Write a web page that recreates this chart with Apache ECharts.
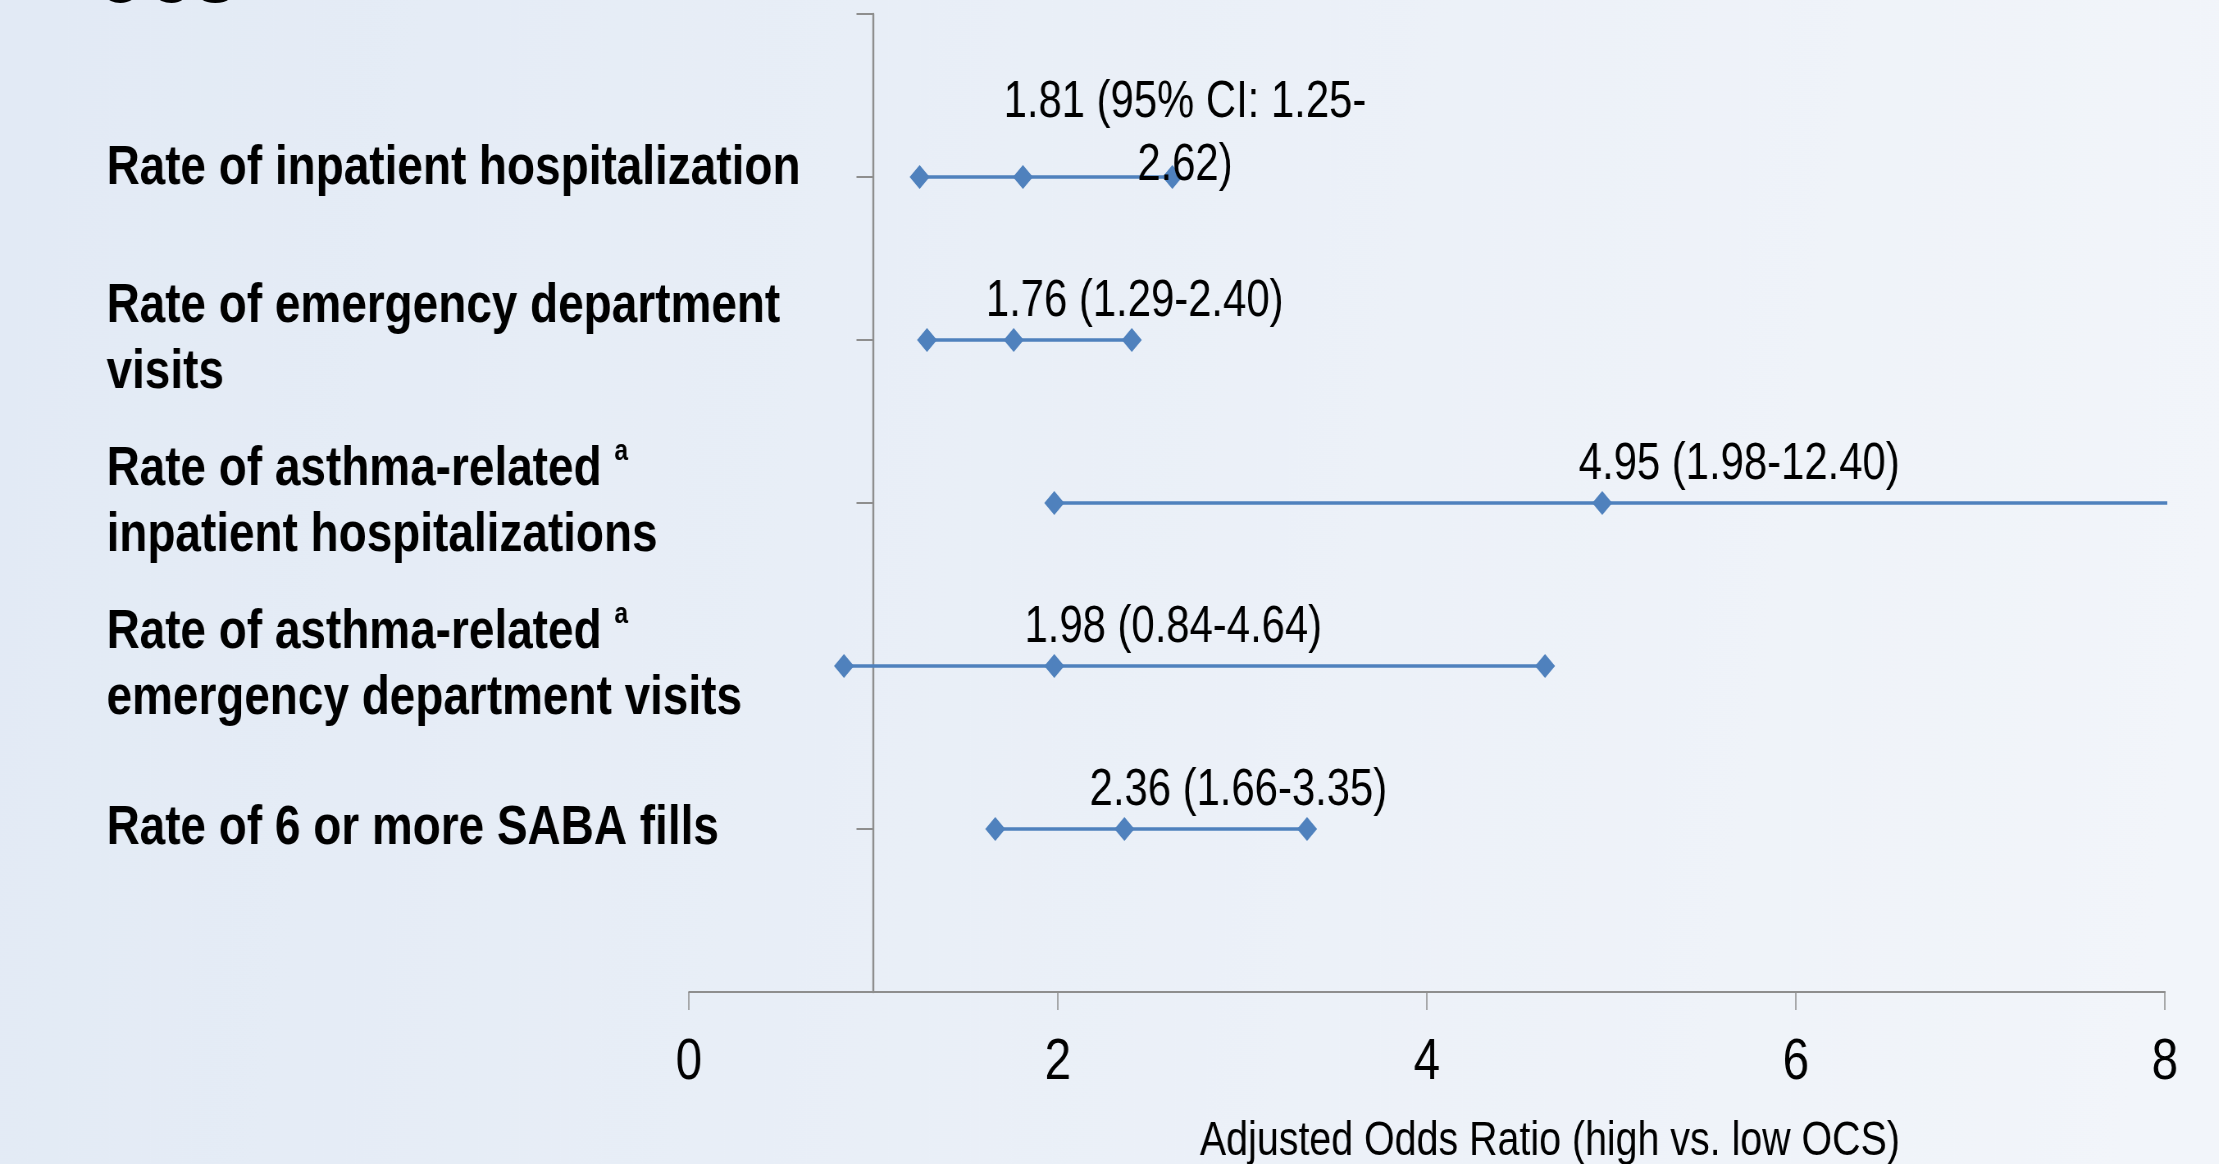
<!DOCTYPE html>
<html>
<head>
<meta charset="utf-8">
<script src="https://cdn.jsdelivr.net/npm/echarts@6/dist/echarts.min.js"></script>
<style>
  html, body { margin: 0; padding: 0; overflow: hidden; width: 2219px; height: 1164px; }
  /* the original is set in a narrow face; draw wide, then squeeze */
  #show_picture { width: 2706px; height: 1164px; transform: scaleX(0.82); transform-origin: 0 0; }
</style>
</head>
<body>
<div id="show_picture"></div>
<script>
// rows top to bottom
const outcomes = [
    'Rate of inpatient hospitalization',
    'Rate of emergency department\nvisits',
    'Rate of asthma-related {sup|a}\ninpatient hospitalizations',
    'Rate of asthma-related {sup|a}\nemergency department visits',
    'Rate of 6 or more SABA fills'
];
const oddsRatio = [1.81, 1.76, 4.95, 1.98, 2.36];
const ciLow = [1.25, 1.29, 1.98, 0.84, 1.66];
const ciHigh = [2.62, 2.40, 12.40, 4.64, 3.35];
const rowPos = [5, 4, 3, 2, 1];
const xTicks = [0, 2, 4, 6, 8];

const SX = 0.82; // horizontal squeeze of the page
const px = v => v / SX;

// label shift from the odds ratio point (screen px)
const labelShift = [[162, -43], [121, -38], [137, -38], [119, -38], [114, -38]];

const font = "'Liberation Sans', Arial, sans-serif";
const blue = '#4f81bd';
const gray = '#8e8e8e';

let myChart = echarts.init(document.getElementById('show_picture'));

function labelText(i) {
    const f = v => v.toFixed(2);
    if (i === 0) return f(oddsRatio[i]) + ' (95% CI: ' + f(ciLow[i]) + '-\n' + f(ciHigh[i]) + ')';
    return f(oddsRatio[i]) + ' (' + f(ciLow[i]) + '-' + f(ciHigh[i]) + ')';
}

let series = outcomes.map((name, i) => ({
    type: 'line',
    name: 'row' + i,
    symbol: 'diamond',
    symbolSize: [px(20), 24],
    lineStyle: { color: blue, width: 3.5 },
    itemStyle: { color: blue },
    clip: true,
    data: [
        { value: [ciLow[i], rowPos[i]] },
        {
            value: [oddsRatio[i], rowPos[i]],
            label: {
                show: true,
                position: 'inside',
                offset: [px(labelShift[i][0]), labelShift[i][1]],
                formatter: labelText(i),
                fontFamily: font,
                fontSize: 51,
                lineHeight: 63,
                color: '#000',
                align: 'center'
            }
        },
        { value: [ciHigh[i], rowPos[i]] }
    ]
}));

let option = {
    animation: false,
    backgroundColor: {
        type: 'linear', x: 0, y: 0, x2: 1, y2: 0.4,
        colorStops: [
            { offset: 0, color: '#e2eaf5' },
            { offset: 1, color: '#f2f5fa' }
        ]
    },
    graphic: [{
        type: 'text',
        x: px(95),
        y: 20,
        style: {
            text: 'OCS',
            font: 'bold 80px ' + font,
            fill: '#000',
            verticalAlign: 'bottom'
        }
    }],
    grid: { left: px(689), right: px(54), top: 14, bottom: 172, containLabel: false, outerBoundsMode: 'none' },
    xAxis: {
        type: 'value',
        min: xTicks[0],
        max: xTicks[xTicks.length - 1],
        interval: 2,
        axisLine: { onZero: false, lineStyle: { color: gray, width: 2 } },
        axisTick: { show: true, length: 18, lineStyle: { color: gray, width: 1.5 } },
        splitLine: { show: false },
        axisLabel: { fontFamily: font, fontSize: 58, color: '#000', margin: 42 },
        name: 'Adjusted Odds Ratio (high vs. low OCS)',
        nameLocation: 'middle',
        nameGap: 126,
        nameTextStyle: { fontFamily: font, fontSize: 48, color: '#000', padding: [0, 0, 0, px(246)] }
    },
    yAxis: {
        type: 'value',
        min: 0,
        max: 6,
        interval: 1,
        offset: -px(184.5),
        axisLine: { show: true, onZero: false, lineStyle: { color: gray, width: 2.4 } },
        axisTick: { show: true, length: px(17), lineStyle: { color: gray, width: 2 } },
        splitLine: { show: false },
        axisLabel: {
            align: 'left',
            margin: px(767),
            fontFamily: font,
            fontWeight: 'bold',
            fontSize: 56,
            lineHeight: 66,
            color: '#000',
            formatter: v => {
                let i = rowPos.indexOf(v);
                if (i < 0) return '';
                // the first label sits a little above its tick
                return i === 0 ? '{lift|' + outcomes[i] + '}' : outcomes[i];
            },
            rich: {
                sup: { fontFamily: font, fontWeight: 'bold', fontSize: 30, verticalAlign: 'top', lineHeight: 66, color: '#000' },
                lift: { fontFamily: font, fontWeight: 'bold', fontSize: 56, lineHeight: 66, color: '#000', padding: [0, 0, 16, 0] }
            }
        }
    },
    series: series
};

option && myChart.setOption(option);
</script>
</body>
</html>
